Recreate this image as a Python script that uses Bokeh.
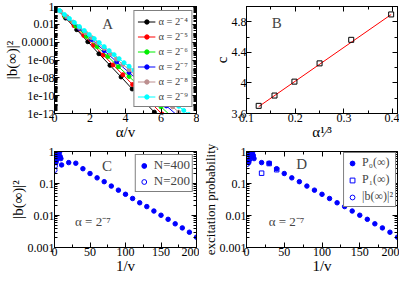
import numpy as np
from bokeh.plotting import figure
from bokeh.models import (FixedTicker, LogAxis, LinearAxis, CustomJSTickFormatter,
                          Legend, LegendItem, Label, Range1d)
from bokeh.layouts import gridplot
from bokeh.embed import file_html
from bokeh.resources import INLINE

FONT = "Liberation Serif"

# ---------------- Panel A data (x = alpha/v, log10 |b|^2) ----------------
a_labels = ["α = 2⁻⁴", "α = 2⁻⁵", "α = 2⁻⁶", "α = 2⁻⁷", "α = 2⁻⁸", "α = 2⁻⁹"]
a_colors = ["black", "red", "#00ee00", "blue", "#bc8f8f", "cyan"]
a_x4 = [0, 0.625, 1.25, 1.875, 2.5, 3.125, 3.75, 4.375, 5.0, 5.625, 6.25]
a_lg4 = [0, -1.3, -2.6, -3.95, -5.3, -6.6, -7.9, -9.25, -10.55, -11.85, -13.2]
a_x5 = [0, 0.55, 1.1, 1.65, 2.2, 2.75, 3.3, 3.85, 4.4, 4.95, 5.5, 6.05, 6.6]
a_lg5 = [0, -1.05, -2.15, -3.25, -4.35, -5.45, -6.55, -7.65, -8.75, -9.85, -10.95, -12.05, -13.15]
a_x6 = [0, 0.6, 1.2, 1.8, 2.4, 3.0, 3.6, 4.2, 4.8, 5.4, 6.0, 6.6, 7.2]
a_lg6 = [0, -1.1, -2.2, -3.35, -4.5, -5.6, -6.75, -7.85, -9.0, -10.1, -11.25, -12.35, -13.5]
a_x7 = [0, 0.7, 1.4, 2.1, 2.8, 3.5, 4.2, 4.9, 5.6, 6.3, 7.0]
a_lg7 = [0, -1.2, -2.45, -3.7, -4.95, -6.2, -7.4, -8.65, -9.9, -11.15, -12.35]
a_x8 = [0, 0.35, 0.7, 1.05, 1.4, 1.75, 2.1, 2.45, 2.8, 3.15, 3.5, 3.85, 4.2, 4.55,
        4.9, 5.25, 5.6, 5.95, 6.3, 6.65, 7.0, 7.35]
a_lg8 = [0, -0.55, -1.15, -1.75, -2.35, -2.95, -3.5, -4.1, -4.7, -5.3, -5.9, -6.5,
         -7.1, -7.7, -8.25, -8.85, -9.45, -10.05, -10.65, -11.25, -11.85, -12.4]
a_x9 = [0, 0.28, 0.56, 0.84, 1.12, 1.4, 1.68, 1.96, 2.24, 2.52, 2.8, 3.08, 3.36, 3.64,
        3.92, 4.2, 4.48, 4.76, 5.04, 5.32, 5.6, 5.88, 6.16, 6.44, 6.72, 7.0, 7.28, 7.56]
a_lg9 = [0, -0.45, -0.9, -1.35, -1.8, -2.25, -2.7, -3.15, -3.6, -4.05, -4.5, -4.95, -5.4,
         -5.85, -6.3, -6.7, -7.15, -7.6, -8.05, -8.5, -8.95, -9.4, -9.85, -10.3, -10.75,
         -11.2, -11.65, -12.1]
a_xs = [a_x4, a_x5, a_x6, a_x7, a_x8, a_x9]
a_lgs = [a_lg4, a_lg5, a_lg6, a_lg7, a_lg8, a_lg9]

# ---------------- Panel B data ----------------
b_x = [0.125, 0.1575, 0.1984, 0.25, 0.315, 0.397]
b_c = [3.70, 3.835, 4.017, 4.256, 4.564, 4.896]
b_fit_x = [0.125, 0.397]
b_fit_c = [3.69, 4.895]

# ---------------- Panel C data ----------------
c_x400 = [2, 3, 4, 5, 6, 7, 8, 9, 10, 20, 30, 40, 50, 60, 70, 80, 90, 100, 110, 120,
          130, 140, 150, 160, 170, 180, 190, 200]
c_y400 = [0.45, 0.55, 0.7, 0.85, 1.0, 0.95, 0.7, 0.6, 0.38, 0.45, 0.43, 0.29, 0.205,
          0.15, 0.114, 0.083, 0.062, 0.046, 0.034, 0.025, 0.019, 0.0138, 0.0102,
          0.0076, 0.0055, 0.0041, 0.003, 0.0021]
c_x200 = [0.5, 1, 2, 3, 4, 5, 6]
c_y200 = [0.26, 0.35, 0.5, 0.65, 0.8, 0.9, 0.7]

# ---------------- Panel D data ----------------
d_xp0 = [3, 4, 5, 6, 7, 8, 9, 10, 20, 30, 40, 50, 60, 70, 80, 90, 100, 110, 120,
         130, 140, 150, 160, 170, 180, 190, 200]
d_yp0 = [0.45, 0.55, 0.7, 0.85, 1.0, 0.9, 0.75, 0.6, 0.45, 0.43, 0.29, 0.205, 0.15,
         0.114, 0.083, 0.062, 0.046, 0.034, 0.025, 0.019, 0.0138, 0.0102, 0.0076,
         0.0055, 0.0041, 0.003, 0.0021]
d_xp1 = [2, 4, 6, 8, 20, 30, 40]
d_yp1 = [0.6, 0.8, 0.95, 0.7, 0.21, 0.42, 0.27]
d_xb = [1, 2, 3, 4, 5, 6]
d_yb = [0.4, 0.5, 0.62, 0.75, 0.9, 0.85]

LOGFMT = CustomJSTickFormatter(code="""
const e = Math.round(Math.log10(tick));
if (e == 0) return "1";
if (e >= -4) return (Math.pow(10, e)).toFixed(-e);
return "1e-" + String(-e).padStart(2, "0");
""")
DECFMT = CustomJSTickFormatter(code="return String(Math.round(tick*10)/10);")
BLANK = "return '';"


def style_axis(ax, blank=False):
    ax.major_tick_in = 5
    ax.major_tick_out = 0
    ax.minor_tick_in = 3
    ax.minor_tick_out = 0
    ax.axis_line_color = "black"
    ax.major_tick_line_color = "black"
    ax.minor_tick_line_color = "black"
    ax.major_label_text_font = FONT
    ax.major_label_text_color = "black"
    ax.axis_label_text_font = FONT
    ax.axis_label_text_font_style = "normal"
    ax.axis_label_text_color = "black"
    if blank:
        ax.major_label_text_font_size = "0px"
        ax.major_label_standoff = 0
    else:
        ax.major_label_text_font_size = "12px"
        ax.major_label_text_line_height = 0.8
        ax.major_label_standoff = 0
        ax.axis_label_text_font_size = "15px"
        ax.axis_label_text_line_height = 0.6
        ax.axis_label_standoff = -1


def make_fig(w, h, xr, yr, logy, xt, yt, xfmt, yfmt, xlabel, ylabel, borders):
    p = figure(width=w, height=h, x_range=Range1d(*xr), y_range=Range1d(*yr),
               y_axis_type="log" if logy else "linear",
               output_backend="svg", toolbar_location=None,
               min_border_left=borders[0], min_border_right=borders[1],
               min_border_top=borders[2], min_border_bottom=borders[3])
    p.grid.visible = False
    p.outline_line_color = "black"
    p.background_fill_color = "white"
    p.border_fill_color = "white"
    xa = p.xaxis[0]
    ya = p.yaxis[0]
    xa.ticker = xt
    ya.ticker = yt
    if xfmt is not None:
        xa.formatter = xfmt
    if yfmt is not None:
        ya.formatter = yfmt
    xa.axis_label = xlabel
    ya.axis_label = ylabel
    style_axis(xa)
    style_axis(ya)
    top = LinearAxis(ticker=xt, formatter=CustomJSTickFormatter(code=BLANK))
    right = (LogAxis if logy else LinearAxis)(ticker=yt, formatter=CustomJSTickFormatter(code=BLANK))
    style_axis(top, True)
    style_axis(right, True)
    p.add_layout(top, "above")
    p.add_layout(right, "right")
    return p


def log_minors(lo, hi, skip):
    out = []
    for n in range(lo, hi):
        for k in range(1, 10):
            v = k * 10.0 ** n
            if k == 1 and n in skip:
                continue
            out.append(v)
    return out


# ---------------- Panel A ----------------
a_major = [1e-12, 1e-10, 1e-8, 1e-6, 1e-4, 1e-2, 1]
pA = make_fig(199, 142, (0, 8), (1e-12, 1), True,
              FixedTicker(ticks=[0, 2, 4, 6, 8], minor_ticks=[1, 3, 5, 7]),
              FixedTicker(ticks=a_major, minor_ticks=log_minors(-12, 0, [-12, -10, -8, -6, -4, -2])),
              None, LOGFMT, "α/v", "|b(∞)|²", (52, 3, 6, 18))
a_items = []
for xs, lgs, col, lab in zip(a_xs, a_lgs, a_colors, a_labels):
    ys = [10.0 ** v for v in lgs]
    r1 = pA.line(xs, ys, line_color=col, line_width=1)
    r2 = pA.scatter(xs, ys, size=4, marker="circle", fill_color=col, line_color=col)
    a_items.append(LegendItem(label=lab, renderers=[r1, r2]))
legA = Legend(items=a_items, location="top_right", margin=4, padding=3, spacing=1,
              glyph_width=18, glyph_height=11, label_height=11, label_standoff=3,
              label_text_font=FONT, label_text_font_size="10.5px",
              border_line_color="black", border_line_width=1,
              background_fill_color="white", background_fill_alpha=1)
pA.add_layout(legA)
pA.add_layout(Label(x=3.0, y=1e-2, text="A", text_font=FONT, text_font_size="15px",
                    text_align="center", text_baseline="middle"))

# ---------------- Panel B ----------------
pB = make_fig(200, 142, (0.1, 0.41), (3.6, 5.0), False,
              FixedTicker(ticks=[0.1, 0.2, 0.3, 0.4], minor_ticks=[0.15, 0.25, 0.35]),
              FixedTicker(ticks=[3.6, 4.0, 4.4, 4.8], minor_ticks=[3.8, 4.2, 4.6, 5.0]),
              DECFMT, DECFMT, "α¹⁄³", "c", (47, 2, 6, 18))
pB.line(b_fit_x, b_fit_c, line_color="red", line_width=1)
pB.scatter(b_x, b_c, marker="square", size=5, fill_color=None, line_color="black", line_width=1)
pB.add_layout(Label(x=0.162, y=4.78, text="B", text_font=FONT, text_font_size="15px",
                    text_align="center", text_baseline="middle"))

# ---------------- Panel C ----------------
cd_y_major = [1e-3, 1e-2, 1e-1, 1]
pC = make_fig(199, 134, (0, 200), (1e-3, 1), True,
              FixedTicker(ticks=[0, 50, 100, 150, 200], minor_ticks=[25, 75, 125, 175]),
              FixedTicker(ticks=cd_y_major, minor_ticks=log_minors(-3, 0, [-3, -2, -1])),
              None, LOGFMT, "1/v", "|b(∞)|²", (52, 3, 9, 18))
rc1 = pC.scatter(c_x400, c_y400, marker="circle", size=4.5, fill_color="blue", line_color="blue")
rc2 = pC.scatter(c_x200, c_y200, marker="circle", size=4.5, fill_color=None, line_color="blue")
legC = Legend(items=[LegendItem(label="N=400", renderers=[rc1]),
                     LegendItem(label="N=200", renderers=[rc2])],
              location="top_right", margin=3, padding=2, spacing=0,
              glyph_width=12, glyph_height=13, label_height=13, label_standoff=4,
              label_text_font=FONT, label_text_font_size="13px",
              border_line_color="black", border_line_width=1,
              background_fill_color="white", background_fill_alpha=1)
pC.add_layout(legC)
pC.add_layout(Label(x=74, y=0.35, text="C", text_font=FONT, text_font_size="15px",
                    text_align="center", text_baseline="middle"))
pC.add_layout(Label(x=54, y=0.0066, text="α = 2⁻⁷", text_font=FONT, text_font_size="13px",
                    text_align="center", text_baseline="middle"))

# ---------------- Panel D ----------------
pD = make_fig(200, 134, (0, 200), (1e-3, 1), True,
              FixedTicker(ticks=[0, 50, 100, 150, 200], minor_ticks=[25, 75, 125, 175]),
              FixedTicker(ticks=cd_y_major, minor_ticks=log_minors(-3, 0, [-3, -2, -1])),
              None, LOGFMT, "1/v", "excitation probability", (47, 2, 9, 18))
pD.yaxis[0].axis_label_text_font_size = "13px"
rd1 = pD.scatter(d_xp0, d_yp0, marker="circle", size=4.5, fill_color="blue", line_color="blue")
rd2 = pD.scatter(d_xp1, d_yp1, marker="square", size=4.5, fill_color=None, line_color="blue")
rd3 = pD.scatter(d_xb, d_yb, marker="circle", size=4.5, fill_color=None, line_color="blue")
legD = Legend(items=[LegendItem(label="P₀(∞)", renderers=[rd1]),
                     LegendItem(label="P₁(∞)", renderers=[rd2]),
                     LegendItem(label="|b(∞)|²", renderers=[rd3])],
              location="top_right", margin=1, padding=2, spacing=2,
              glyph_width=12, glyph_height=14, label_height=14, label_standoff=4,
              label_text_font=FONT, label_text_font_size="12px",
              border_line_color="black", border_line_width=1,
              background_fill_color="white", background_fill_alpha=1)
pD.add_layout(legD)
pD.add_layout(Label(x=73, y=0.4, text="D", text_font=FONT, text_font_size="15px",
                    text_align="center", text_baseline="middle"))
pD.add_layout(Label(x=53, y=0.0066, text="α = 2⁻⁷", text_font=FONT, text_font_size="13px",
                    text_align="center", text_baseline="middle"))

grid = gridplot([[pA, pB], [pC, pD]], toolbar_location=None)
open("out.html", "w").write(file_html(grid, INLINE))
